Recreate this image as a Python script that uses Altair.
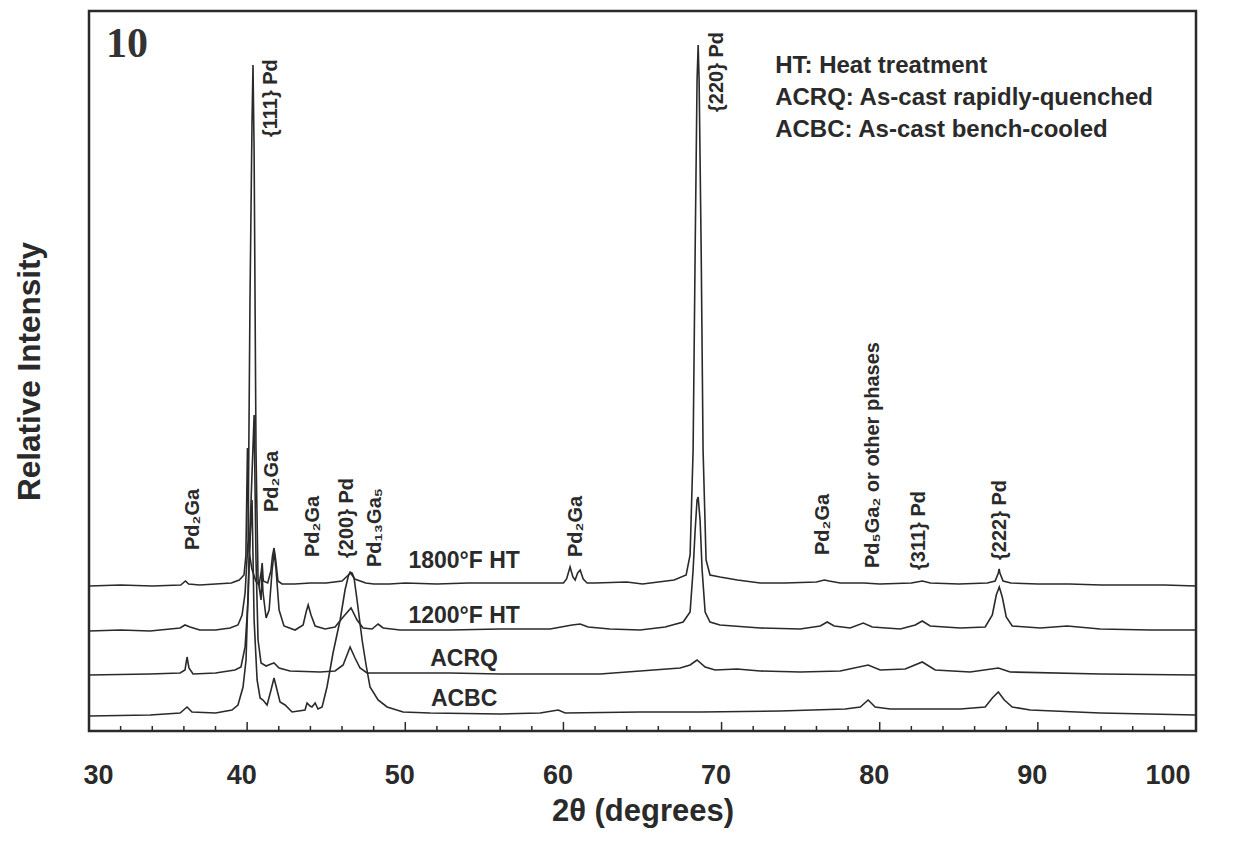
import altair as alt
import pandas as pd

# ---------------- data (2theta in degrees, relative intensity in arbitrary units) ----------------
series_names = ["1800°F HT", "1200°F HT", "ACRQ", "ACBC"]

trace_1800 = [
    (30.0, 145), (32.0, 146), (34.0, 145), (35.8, 146), (36.1, 150), (36.3, 147), (37.0, 146),
    (38.0, 147), (39.0, 148), (39.5, 151), (39.8, 156), (39.92, 175), (40.02, 283), (40.12, 180),
    (40.3, 162), (40.55, 150), (40.75, 146), (40.9, 160), (40.95, 168), (41.02, 150), (41.3, 148),
    (41.5, 160), (41.6, 175), (41.7, 183), (41.8, 172), (41.95, 150), (42.2, 147), (43.0, 147),
    (44.0, 148), (45.0, 148), (46.0, 150), (46.4, 156), (46.55, 158), (46.8, 152), (47.5, 148),
    (48.0, 147), (49.0, 147), (50.0, 148), (52.0, 147), (54.0, 148), (56.0, 148), (58.0, 148),
    (60.0, 148), (60.2, 152), (60.42, 164), (60.6, 154), (60.74, 151), (60.9, 158), (61.06, 161),
    (61.25, 152), (61.5, 148), (62.0, 148), (64.0, 149), (65.0, 147), (66.0, 149), (67.0, 151),
    (67.76, 156), (68.01, 176), (68.2, 281), (68.33, 481), (68.45, 651), (68.52, 686), (68.58, 651),
    (68.71, 481), (68.83, 281), (69.02, 171), (69.27, 156), (69.9, 154), (71.0, 151), (72.44, 148),
    (74.0, 148), (76.0, 149), (76.5, 151), (76.8, 150), (77.5, 148), (79.0, 148), (80.0, 147),
    (82.0, 148), (82.7, 150), (83.2, 148), (85.0, 147), (86.8, 148), (87.3, 150), (87.5, 158),
    (87.55, 162), (87.6, 158), (87.8, 150), (88.3, 148), (90.0, 147), (92.0, 147), (94.0, 146),
    (96.0, 146), (98.0, 146), (100.0, 145),
]

trace_1200 = [
    (30.0, 100), (32.0, 101), (33.86, 100), (35.76, 103), (36.07, 106), (36.39, 104), (37.0, 101),
    (38.0, 101), (38.92, 103), (39.42, 106), (39.68, 116), (39.87, 138), (40.06, 191), (40.18, 431),
    (40.31, 611), (40.37, 666), (40.44, 581), (40.56, 281), (40.69, 151), (40.88, 131), (40.94, 161),
    (41.0, 139), (41.2, 113), (41.39, 121), (41.58, 161), (41.71, 179), (41.83, 161), (42.02, 121),
    (42.33, 105), (43.03, 101), (43.54, 106), (43.73, 119), (43.86, 126), (44.04, 116), (44.3, 105),
    (44.93, 102), (45.56, 104), (46.07, 114), (46.57, 123), (46.95, 111), (47.33, 103), (47.9, 102),
    (48.28, 107), (48.6, 103), (49.67, 101), (52.83, 101), (56.0, 102), (59.16, 102), (60.55, 106),
    (61.06, 107), (61.56, 104), (62.95, 102), (64.85, 101), (66.43, 104), (67.57, 109), (68.01, 119),
    (68.2, 161), (68.33, 201), (68.45, 231), (68.52, 234), (68.64, 211), (68.77, 161), (68.96, 119),
    (69.27, 109), (69.9, 106), (72.44, 103), (74.97, 102), (76.24, 105), (76.68, 109), (77.12, 105),
    (78.13, 103), (78.96, 108), (79.53, 104), (81.3, 102), (82.25, 106), (82.69, 110), (83.19, 105),
    (85.09, 103), (86.67, 104), (87.12, 116), (87.37, 136), (87.56, 144), (87.75, 134), (88.0, 114),
    (88.38, 105), (90.15, 103), (91.86, 105), (93.95, 102), (97.11, 101), (100.0, 101),
]

trace_acrq = [
    (30.0, 56), (33.86, 57), (35.76, 58), (36.07, 61), (36.2, 74), (36.32, 63), (36.58, 57),
    (38.0, 58), (39.23, 61), (39.61, 64), (39.87, 84), (40.06, 131), (40.25, 231), (40.44, 316),
    (40.56, 171), (40.69, 91), (40.88, 68), (41.2, 65), (41.51, 67), (41.7, 68), (42.02, 63),
    (42.71, 60), (44.61, 59), (45.56, 60), (46.07, 66), (46.51, 84), (46.82, 73), (47.14, 63),
    (47.58, 58), (49.67, 58), (52.83, 58), (56.0, 57), (59.79, 57), (62.32, 57), (64.85, 60),
    (67.38, 63), (68.01, 66), (68.45, 71), (68.96, 64), (69.59, 61), (70.98, 62), (72.44, 60),
    (74.97, 59), (77.5, 60), (79.27, 66), (80.03, 61), (81.61, 62), (82.69, 69), (83.51, 61),
    (85.72, 59), (87.5, 63), (88.25, 59), (93.95, 57), (100.0, 56),
]

trace_acbc = [
    (30.0, 15), (33.86, 16), (35.76, 18), (36.2, 24), (36.51, 19), (38.0, 18), (39.04, 21),
    (39.42, 26), (39.74, 44), (39.93, 71), (40.12, 171), (40.31, 231), (40.44, 111), (40.63, 51),
    (40.82, 33), (41.0, 31), (41.26, 26), (41.51, 41), (41.7, 53), (41.89, 41), (42.08, 29),
    (42.4, 26), (42.84, 19), (43.66, 21), (43.79, 28), (43.98, 25), (44.1, 24), (44.3, 28),
    (44.48, 22), (44.74, 24), (45.05, 44), (45.43, 78), (45.88, 111), (46.19, 141), (46.4, 155),
    (46.51, 159), (46.64, 158), (46.76, 153), (46.95, 131), (47.27, 91), (47.52, 66), (47.77, 44),
    (48.28, 31), (48.85, 24), (49.86, 19), (51.57, 18), (56.0, 17), (58.53, 18), (59.67, 21),
    (60.11, 18), (64.85, 19), (68.65, 19), (73.7, 20), (77.82, 22), (78.77, 24), (79.27, 31),
    (79.71, 24), (80.66, 22), (85.09, 22), (86.67, 24), (87.12, 33), (87.5, 39), (87.88, 31),
    (88.38, 24), (89.52, 21), (93.95, 18), (100.0, 16),
]

# peak annotations (rotated text)
ann_text = ["Pd₂Ga", "Pd₂Ga", "Pd₂Ga", "{200} Pd", "Pd₁₃Ga₅", "Pd₂Ga", "Pd₂Ga",
            "Pd₅Ga₂ or other phases", "{311} Pd", "{222} Pd", "{111} Pd", "{220} Pd"]
ann_t = [36.6, 41.57, 44.17, 46.32, 48.09, 60.8, 76.43, 79.59, 82.5, 87.62, 41.51, 69.72]
ann_i = [181, 219, 174, 173, 164, 174, 176, 163, 161, 171, 594, 619]

# series labels
lab_t = [53.72, 53.72, 53.72, 53.72]
lab_i = [170, 115, 72, 32]

# key text
key_text = ["HT: Heat treatment", "ACRQ: As-cast rapidly-quenched", "ACBC: As-cast bench-cooled"]
key_t = [73.39, 73.39, 73.39]
key_i = [665, 633, 601]

# panel number
panel_text = ["10"]
panel_t = [31.08]
panel_i = [687]

# axis ticks
x_major = [30, 40, 50, 60, 70, 80, 90, 100]
x_minor = [32, 34, 36, 38, 42, 44, 46, 48, 52, 54, 56, 58, 62, 64, 66, 68,
           72, 74, 76, 78, 82, 84, 86, 88, 92, 94, 96, 98]

# ---------------- tables ----------------
rows = []
for name, pts in zip(series_names, [trace_1800, trace_1200, trace_acrq, trace_acbc]):
    for k, (t, i) in enumerate(pts):
        rows.append({"series": name, "t": t, "i": i, "k": k})
df = pd.DataFrame(rows)

ann_df = pd.DataFrame({"label": ann_text, "t": ann_t, "i": ann_i})
lab_df = pd.DataFrame({"label": series_names, "t": lab_t, "i": lab_i})
key_df = pd.DataFrame({"label": key_text, "t": key_t, "i": key_i})
panel_df = pd.DataFrame({"label": panel_text, "t": panel_t, "i": panel_i})
tick_df = pd.DataFrame({
    "t": x_major + x_minor,
    "i": [0] * (len(x_major) + len(x_minor)),
    "i2": [9] * len(x_major) + [5] * len(x_minor),
})

FONT = "Liberation Sans"
INK = "#2a2a2a"

x_scale = alt.Scale(domain=[30, 100], nice=False, zero=False)
y_scale = alt.Scale(domain=[0, 720], nice=False, zero=False)

x_axis = alt.Axis(
    values=x_major, format="d", title="2θ (degrees)",
    labelFont=FONT, labelFontSize=27, labelFontWeight="bold", labelColor=INK,
    labelPadding=31, labelOffset=-6, ticks=False, tickSize=0, domain=False, grid=False,
    titleFont=FONT, titleFontSize=31, titleFontWeight="bold", titleColor=INK,
    titleY=80, titleBaseline="middle",
)
y_axis = alt.Axis(
    labels=False, ticks=False, tickSize=0, domain=False, grid=False,
    title="Relative Intensity", titleFont=FONT, titleFontSize=31.5, titleFontWeight="bold",
    titleColor=INK, titleX=-59, titleY=360, titleAngle=270, titleAlign="center",
    titleBaseline="middle",
)

X = alt.X("t:Q", scale=x_scale, axis=x_axis, title="2θ (degrees)")
Y = alt.Y("i:Q", scale=y_scale, axis=y_axis, title="Relative Intensity")

lines = alt.Chart(df).mark_line(color=INK, strokeWidth=1.6).encode(
    x=X, y=Y, detail="series:N", order="k:Q",
)

ticks = alt.Chart(tick_df).mark_rule(color=INK, strokeWidth=1.5).encode(
    x=X, y=Y, y2="i2:Q",
)

ann = alt.Chart(ann_df).mark_text(
    font=FONT, fontSize=20, fontWeight="bold", color=INK,
    angle=270, align="left", baseline="middle",
).encode(x=X, y=Y, text="label:N")

labs = alt.Chart(lab_df).mark_text(
    font=FONT, fontSize=23, fontWeight="bold", color=INK, align="center", baseline="middle",
).encode(x=X, y=Y, text="label:N")

key = alt.Chart(key_df).mark_text(
    font=FONT, fontSize=24, fontWeight="bold", color=INK, align="left", baseline="middle",
).encode(x=X, y=Y, text="label:N")

panel = alt.Chart(panel_df).mark_text(
    font="Liberation Serif", fontSize=42, fontWeight="bold", color="#333333",
    align="left", baseline="middle",
).encode(x=X, y=Y, text="label:N")

chart = alt.layer(lines, ticks, ann, labs, key, panel).properties(
    width=1107, height=720,
    autosize=alt.AutoSizeParams(type="none"),
    padding={"left": 81, "top": 3, "right": 24, "bottom": 100},
    background="white",
).configure_view(stroke=INK, strokeWidth=2.5)

chart.save("out.html", embed_options={"renderer": "svg", "actions": False})
